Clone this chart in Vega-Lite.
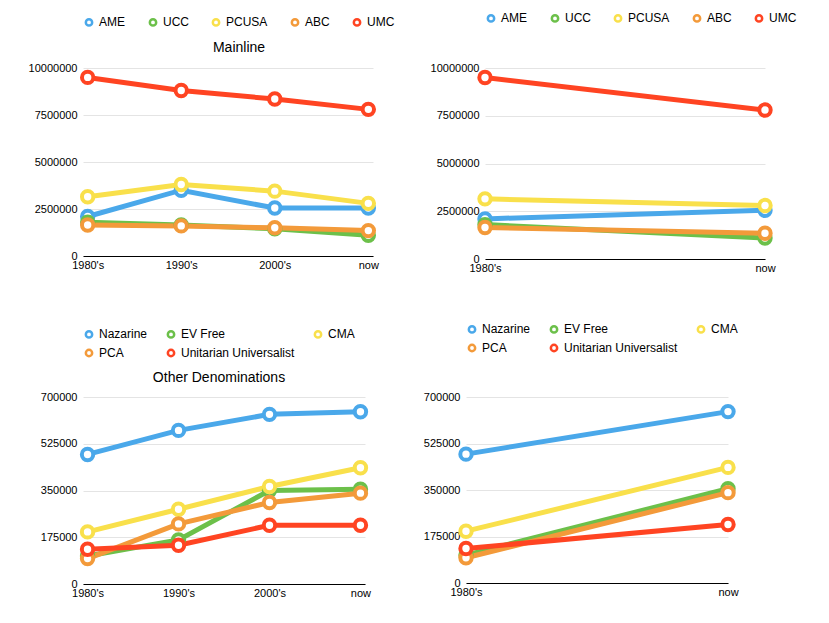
{
  "$schema": "https://vega.github.io/schema/vega-lite/v6.json",
  "background": "white",
  "padding": {"left": 28, "top": 12, "right": 5, "bottom": 5},
  "config": {
    "font": "Liberation Sans",
    "view": {"stroke": null},
    "axis": {"labelFont": "Liberation Sans", "labelFontSize": 11, "labelColor": "black", "title": null, "ticks": false, "labelOverlap": false},
    "axisX": {"domainColor": "black", "grid": false, "labelAngle": 0, "labelPadding": 3},
    "axisY": {"domain": false, "gridColor": "#e4e4e4", "format": "d", "labelPadding": 6},
    "legend": {"labelFontSize": 12, "labelColor": "black", "symbolType": "circle", "symbolSize": 40, "orient": "top", "direction": "horizontal", "columnPadding": 18, "offset": 12, "titleOrient": "bottom", "titleFontSize": 14, "titleFontWeight": "normal", "titleColor": "black", "titleAnchor": "middle", "titlePadding": 10,
      "symbolFillColor": "white", "symbolStrokeWidth": 2.5}
  },
  "datasets": {
    "main": [
      {"den": "AME", "period": "1980's", "v": 2100000}, {"den": "AME", "period": "1990's", "v": 3500000}, {"den": "AME", "period": "2000's", "v": 2550000}, {"den": "AME", "period": "now", "v": 2550000},
      {"den": "UCC", "period": "1980's", "v": 1800000}, {"den": "UCC", "period": "1990's", "v": 1650000}, {"den": "UCC", "period": "2000's", "v": 1450000}, {"den": "UCC", "period": "now", "v": 1100000},
      {"den": "PCUSA", "period": "1980's", "v": 3150000}, {"den": "PCUSA", "period": "1990's", "v": 3800000}, {"den": "PCUSA", "period": "2000's", "v": 3450000}, {"den": "PCUSA", "period": "now", "v": 2800000},
      {"den": "ABC", "period": "1980's", "v": 1650000}, {"den": "ABC", "period": "1990's", "v": 1600000}, {"den": "ABC", "period": "2000's", "v": 1500000}, {"den": "ABC", "period": "now", "v": 1350000},
      {"den": "UMC", "period": "1980's", "v": 9500000}, {"den": "UMC", "period": "1990's", "v": 8800000}, {"den": "UMC", "period": "2000's", "v": 8350000}, {"den": "UMC", "period": "now", "v": 7800000}
    ],
    "other": [
      {"den": "Nazarine", "period": "1980's", "v": 485000}, {"den": "Nazarine", "period": "1990's", "v": 575000}, {"den": "Nazarine", "period": "2000's", "v": 635000}, {"den": "Nazarine", "period": "now", "v": 645000},
      {"den": "EV Free", "period": "1980's", "v": 105000}, {"den": "EV Free", "period": "1990's", "v": 165000}, {"den": "EV Free", "period": "2000's", "v": 350000}, {"den": "EV Free", "period": "now", "v": 355000},
      {"den": "CMA", "period": "1980's", "v": 195000}, {"den": "CMA", "period": "1990's", "v": 280000}, {"den": "CMA", "period": "2000's", "v": 365000}, {"den": "CMA", "period": "now", "v": 435000},
      {"den": "PCA", "period": "1980's", "v": 95000}, {"den": "PCA", "period": "1990's", "v": 225000}, {"den": "PCA", "period": "2000's", "v": 305000}, {"den": "PCA", "period": "now", "v": 340000},
      {"den": "Unitarian Universalist", "period": "1980's", "v": 130000}, {"den": "Unitarian Universalist", "period": "1990's", "v": 145000}, {"den": "Unitarian Universalist", "period": "2000's", "v": 220000}, {"den": "Unitarian Universalist", "period": "now", "v": 220000}
    ]
  },
  "resolve": {"scale": {"color": "independent", "y": "independent", "x": "independent"}, "legend": {"color": "independent"}},
  "spacing": 50,
  "vconcat": [
    {
      "resolve": {"scale": {"color": "independent", "y": "independent", "x": "independent"}, "legend": {"color": "independent"}},
      "spacing": 35,
      "hconcat": [
        {
          "width": 290, "height": 188,
          "data": {"name": "main"},
          "encoding": {
            "x": {"field": "period", "type": "ordinal", "scale": {"type": "point", "padding": 0.05}},
            "y": {"field": "v", "type": "quantitative", "scale": {"domain": [0, 10000000]}, "axis": {"values": [0, 2500000, 5000000, 7500000, 10000000]}},
            "color": {"field": "den", "type": "nominal", "scale": {"domain": ["AME", "UCC", "PCUSA", "ABC", "UMC"], "range": ["#4aa8ea", "#6cc04a", "#f9e04b", "#f39a3a", "#ff4422"]}, "legend": {"title": "Mainline", "columns": 5, "encode": {"symbols": {"update": {"fill": {"value": "white"}, "strokeWidth": {"value": 2.5}}}}}}
          },
          "layer": [
            {"mark": {"type": "line", "strokeWidth": 5}},
            {"mark": {"type": "point", "filled": false, "fill": "white", "fillOpacity": 1, "strokeWidth": 4, "size": 130, "opacity": 1}}
          ]
        },
        {
          "width": 280, "height": 191,
          "data": {"name": "main"},
          "transform": [{"filter": "datum.period == \"1980's\" || datum.period == 'now'"}],
          "encoding": {
            "x": {"field": "period", "type": "ordinal", "scale": {"type": "point", "padding": 0}},
            "y": {"field": "v", "type": "quantitative", "scale": {"domain": [0, 10000000]}, "axis": {"values": [0, 2500000, 5000000, 7500000, 10000000]}},
            "color": {"field": "den", "type": "nominal", "scale": {"domain": ["AME", "UCC", "PCUSA", "ABC", "UMC"], "range": ["#4aa8ea", "#6cc04a", "#f9e04b", "#f39a3a", "#ff4422"]}, "legend": {"title": null, "columns": 5, "offset": 40, "encode": {"symbols": {"update": {"fill": {"value": "white"}, "strokeWidth": {"value": 2.5}}}}}}
          },
          "layer": [
            {"mark": {"type": "line", "strokeWidth": 5}},
            {"mark": {"type": "point", "filled": false, "fill": "white", "fillOpacity": 1, "strokeWidth": 4, "size": 130, "opacity": 1}}
          ]
        }
      ]
    },
    {
      "resolve": {"scale": {"color": "independent", "y": "independent", "x": "independent"}, "legend": {"color": "independent"}},
      "spacing": 48,
      "hconcat": [
        {
          "width": 282, "height": 187,
          "data": {"name": "other"},
          "encoding": {
            "x": {"field": "period", "type": "ordinal", "scale": {"type": "point", "padding": 0.05}},
            "y": {"field": "v", "type": "quantitative", "scale": {"domain": [0, 700000]}, "axis": {"values": [0, 175000, 350000, 525000, 700000]}},
            "color": {"field": "den", "type": "nominal", "scale": {"domain": ["Nazarine", "EV Free", "CMA", "PCA", "Unitarian Universalist"], "range": ["#4aa8ea", "#6cc04a", "#f9e04b", "#f39a3a", "#ff4422"]}, "legend": {"title": "Other Denominations", "columns": 3, "columnPadding": 14, "rowPadding": 1, "encode": {"symbols": {"update": {"fill": {"value": "white"}, "strokeWidth": {"value": 2.5}}}}}}
          },
          "layer": [
            {"mark": {"type": "line", "strokeWidth": 5}},
            {"mark": {"type": "point", "filled": false, "fill": "white", "fillOpacity": 1, "strokeWidth": 4, "size": 130, "opacity": 1}}
          ]
        },
        {
          "width": 262, "height": 186,
          "data": {"name": "other"},
          "transform": [{"filter": "datum.period == \"1980's\" || datum.period == 'now'"}],
          "encoding": {
            "x": {"field": "period", "type": "ordinal", "scale": {"type": "point", "padding": 0}},
            "y": {"field": "v", "type": "quantitative", "scale": {"domain": [0, 700000]}, "axis": {"values": [0, 175000, 350000, 525000, 700000]}},
            "color": {"field": "den", "type": "nominal", "scale": {"domain": ["Nazarine", "EV Free", "CMA", "PCA", "Unitarian Universalist"], "range": ["#4aa8ea", "#6cc04a", "#f9e04b", "#f39a3a", "#ff4422"]}, "legend": {"title": null, "columns": 3, "columnPadding": 14, "rowPadding": 1, "offset": 40, "encode": {"symbols": {"update": {"fill": {"value": "white"}, "strokeWidth": {"value": 2.5}}}}}}
          },
          "layer": [
            {"mark": {"type": "line", "strokeWidth": 5}},
            {"mark": {"type": "point", "filled": false, "fill": "white", "fillOpacity": 1, "strokeWidth": 4, "size": 130, "opacity": 1}}
          ]
        }
      ]
    }
  ]
}
